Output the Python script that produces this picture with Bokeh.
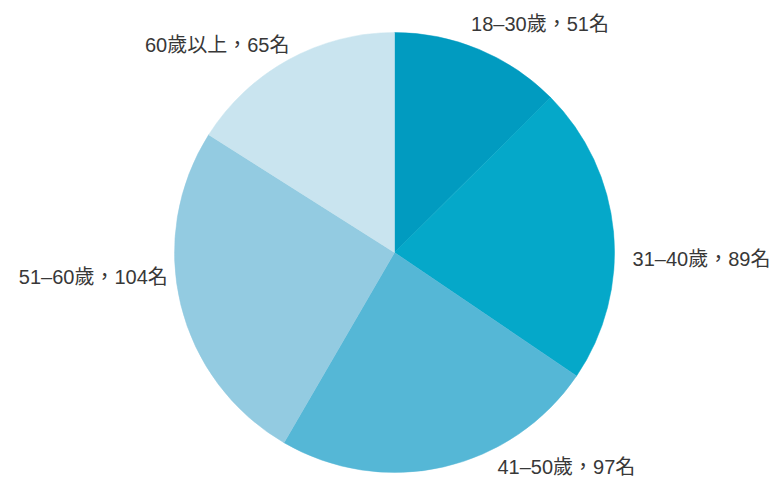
import numpy as np
from bokeh.plotting import figure
from bokeh.models import ColumnDataSource, Range1d
from bokeh.core.properties import value
from bokeh.embed import file_html
from bokeh.resources import INLINE

categories = ["18–30歲", "31–40歲", "41–50歲", "51–60歲", "60歲以上"]
counts = [51, 89, 97, 104, 65]
colors = ["#019bc0", "#05a8c9", "#55b7d6", "#93cbe1", "#c9e4ef"]
# label nudges in pixels relative to arc mid-point (layout only)
label_dx = [-8, 19, 54, -13, 1]
label_dy = [25, -27, 0, 28, 15]
label_align = ["left", "left", "left", "right", "right"]

W, H = 782, 484
scale = 220.0
cx, cy = 394, 252

vals = np.array(counts, dtype=float)
frac = vals / vals.sum()
cum_end = np.cumsum(frac) * 2 * np.pi
cum_start = cum_end - frac * 2 * np.pi
start_angle = np.pi / 2 - cum_end
end_angle = np.pi / 2 - cum_start
mid = (cum_start + cum_end) / 2

src = ColumnDataSource(dict(start=start_angle, end=end_angle, color=colors))

labels = [f"{c}，{n}名" for c, n in zip(categories, counts)]
lx = np.sin(mid) + np.array(label_dx) / scale
ly = np.cos(mid) + np.array(label_dy) / scale
lsrc = ColumnDataSource(dict(x=lx, y=ly, text=labels, align=label_align))

p = figure(width=W, height=H, output_backend="svg", toolbar_location=None,
           x_range=Range1d(-cx / scale, (W - cx) / scale),
           y_range=Range1d(-(H - cy) / scale, cy / scale),
           min_border=0)
p.axis.visible = False
p.grid.visible = False
p.outline_line_color = None
p.background_fill_color = "white"
p.border_fill_color = "white"

p.wedge(x=0, y=0, radius=1, start_angle="start", end_angle="end",
        fill_color="color", line_color="color", line_width=0.5, source=src)

p.text(x="x", y="y", text="text", text_align="align", text_baseline="middle",
       text_font=value("'Liberation Sans', 'Noto Sans CJK TC'"), text_font_size="20px",
       text_color="#383838", source=lsrc)

open("out.html", "w").write(file_html(p, INLINE))
